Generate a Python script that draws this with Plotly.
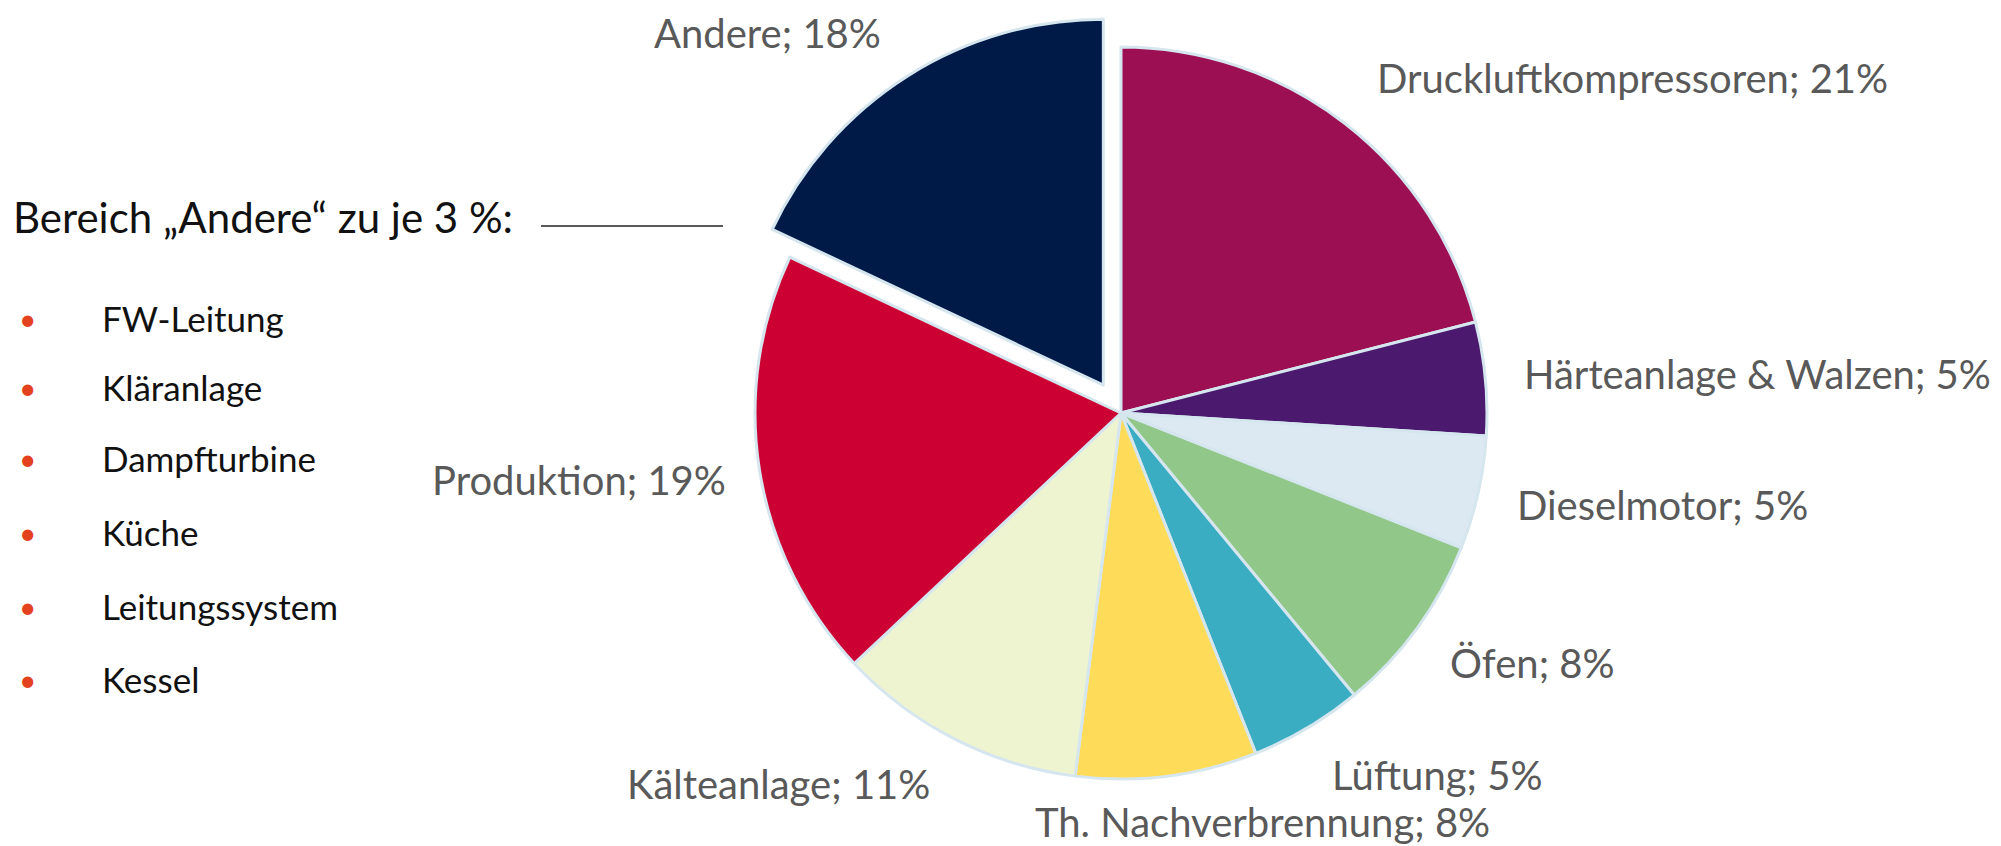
import plotly.graph_objects as go

# ---- data ----
categories = ["Druckluftkompressoren", "Härteanlage & Walzen", "Dieselmotor", "Öfen",
              "Lüftung", "Th. Nachverbrennung", "Kälteanlage", "Produktion", "Andere"]
shares = [21, 5, 5, 8, 5, 8, 11, 19, 18]
slice_colors = ["#9C0F52", "#4B1A6E", "#DCE9F2", "#91C88A", "#3AADC2",
                "#FEDC5A", "#EFF4D0", "#CC0033", "#001A48"]
pulls = [0, 0, 0, 0, 0, 0, 0, 0, 0.09]

andere_items = ["FW-Leitung", "Kläranlage", "Dampfturbine", "Küche", "Leitungssystem", "Kessel"]
andere_share = 3

# label pixel positions (centre) in the 2001x846 canvas
label_pos = {
    "Andere": (759, 25),
    "Druckluftkompressoren": (1624, 70),
    "Härteanlage & Walzen": (1749, 366),
    "Dieselmotor": (1654, 497),
    "Öfen": (1524, 655),
    "Lüftung": (1429, 767),
    "Th. Nachverbrennung": (1254, 814),
    "Kälteanlage": (770, 776),
    "Produktion": (571, 472),
}

W, H = 2001, 846
FONT = "Lato"

# pie geometry: centre and radius in pixels
cx, cy, r = 1113, 405, 366
half = r * (1 + max(pulls))
dom_x = [(cx - half) / W, (cx + half) / W]
dom_y = [1 - (cy + half) / H, 1 - (cy - half) / H]

fig = go.Figure(go.Pie(
    labels=categories,
    values=shares,
    sort=False,
    direction="clockwise",
    rotation=0,
    pull=pulls,
    marker=dict(colors=slice_colors, line=dict(color="#D6E6EF", width=3)),
    textinfo="none",
    hoverinfo="label+percent",
    showlegend=False,
    domain=dict(x=dom_x, y=dom_y),
))

annotations = []
for cat, val in zip(categories, shares):
    px, py = label_pos[cat]
    annotations.append(dict(
        x=px / W, y=1 - py / H, xref="paper", yref="paper",
        text=f"{cat}; {val}%", showarrow=False,
        xanchor="center", yanchor="middle",
        font=dict(family=FONT, size=40, color="#595959"),
    ))

# header text for the "Andere" breakdown
annotations.append(dict(
    x=3 / W, y=1 - 209 / H, xref="paper", yref="paper",
    text=f"Bereich „Andere“ zu je {andere_share} %:", showarrow=False,
    xanchor="left", yanchor="middle",
    font=dict(family=FONT, size=42, color="#111111"),
))

item_y = [310, 379, 450, 524, 598, 671]
for item, iy in zip(andere_items, item_y):
    annotations.append(dict(
        x=19 / W, y=1 - iy / H, xref="paper", yref="paper",
        text="•", showarrow=False, xanchor="center", yanchor="middle",
        font=dict(family=FONT, size=30, color="#E4421E"),
    ))
    annotations.append(dict(
        x=92 / W, y=1 - iy / H, xref="paper", yref="paper",
        text=item, showarrow=False, xanchor="left", yanchor="middle",
        font=dict(family=FONT, size=35, color="#111111"),
    ))

shapes = [dict(type="line", xref="paper", yref="paper",
               x0=533 / W, x1=715 / W, y0=1 - 218 / H, y1=1 - 218 / H,
               line=dict(color="#595959", width=2))]

fig.update_layout(
    width=W, height=H,
    margin=dict(l=0, r=0, t=0, b=0),
    paper_bgcolor="white", plot_bgcolor="white",
    annotations=annotations, shapes=shapes,
    font=dict(family=FONT),
)

fig.write_html("out.html")
